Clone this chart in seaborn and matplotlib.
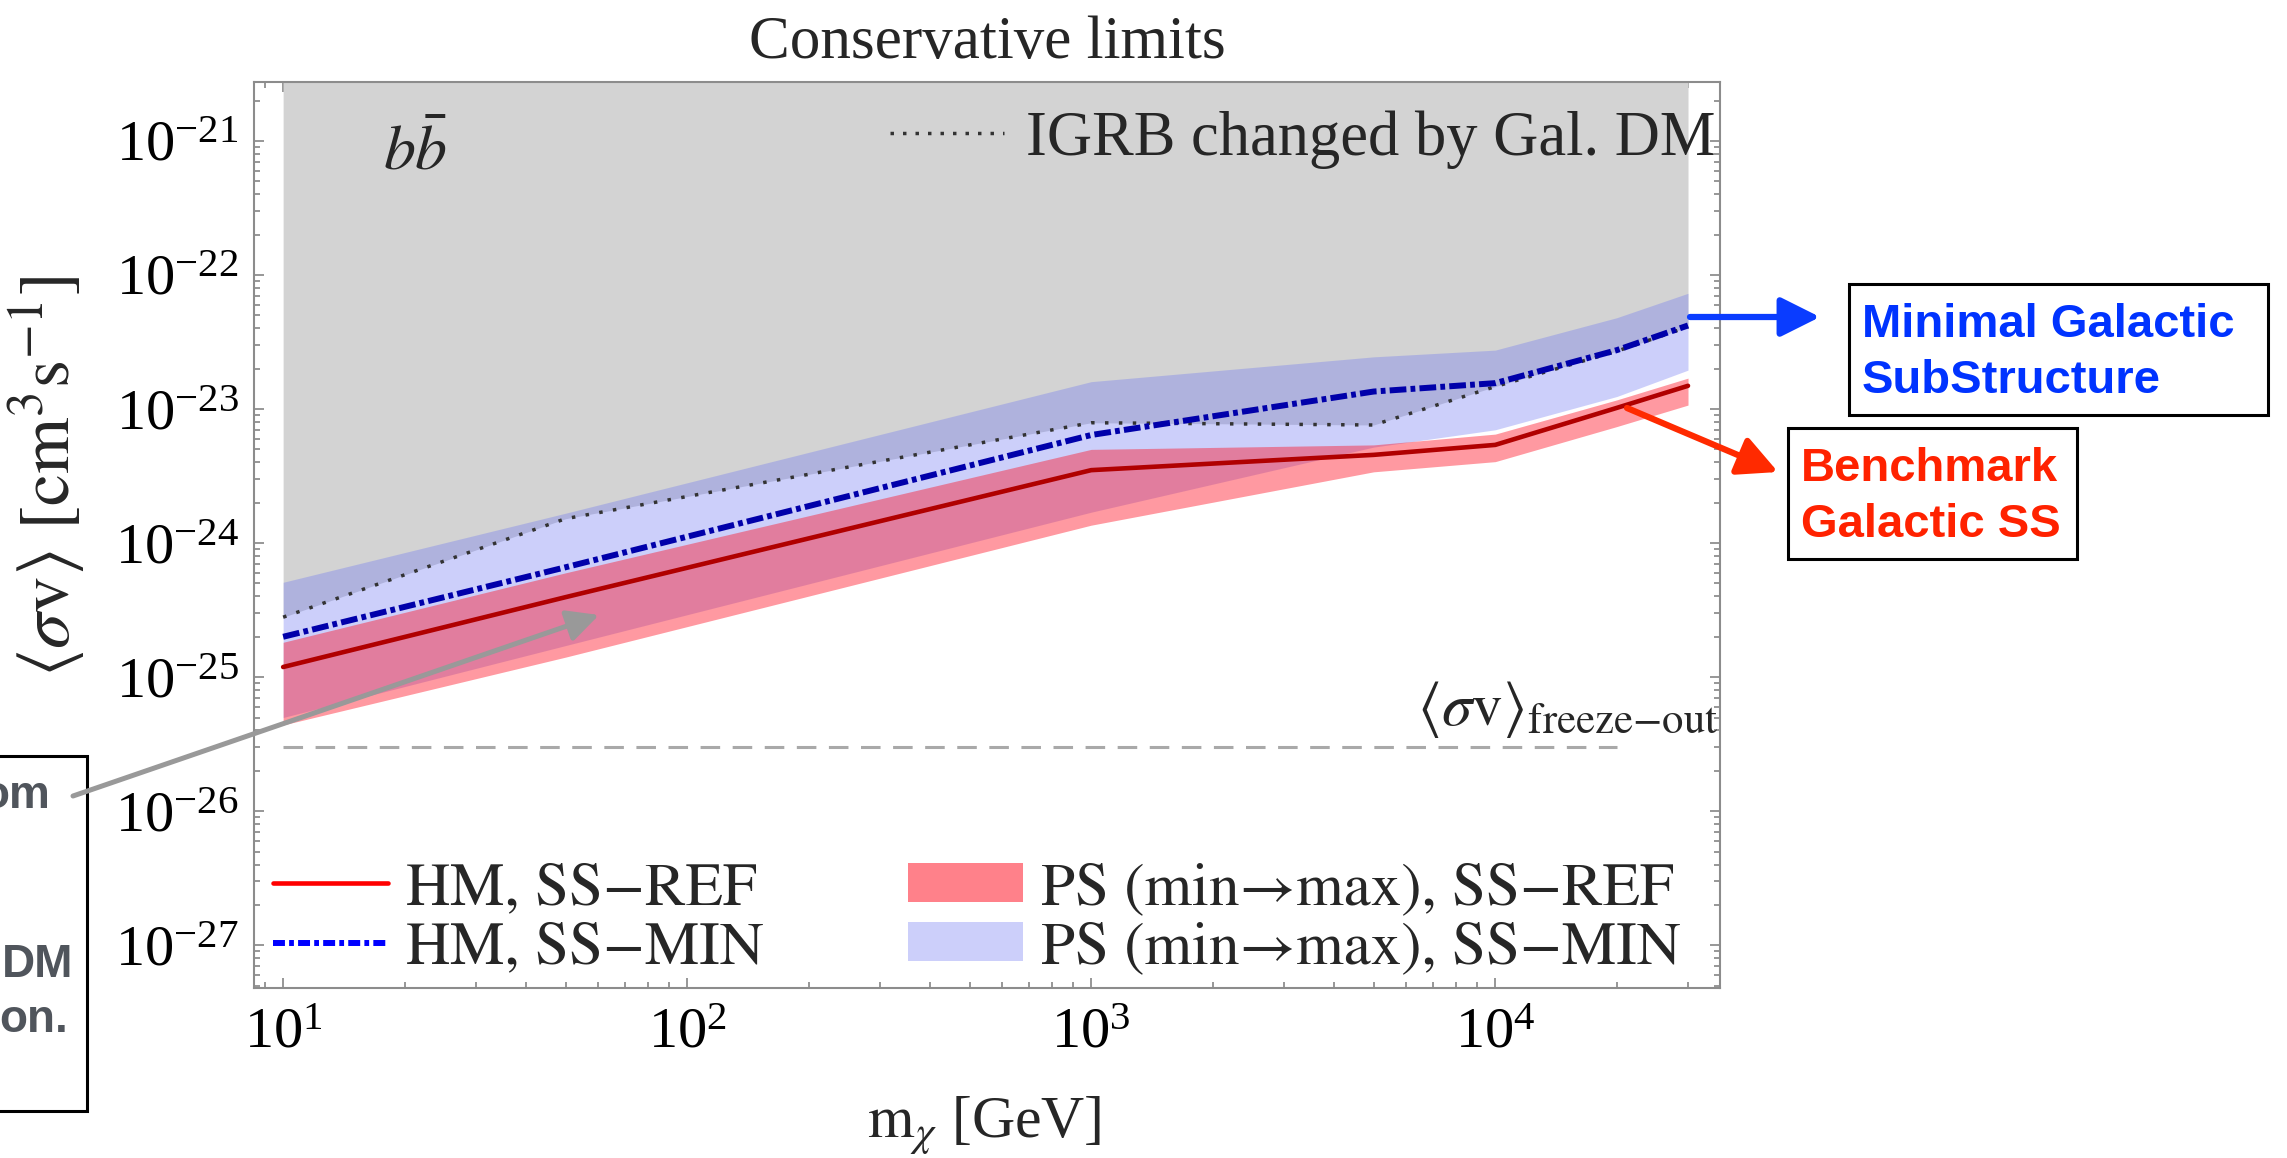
import numpy as np
import pandas as pd
import matplotlib
matplotlib.use("Agg")
import matplotlib.pyplot as plt
import seaborn as sns
from matplotlib.lines import Line2D
from matplotlib.patches import Patch, Rectangle, FancyArrowPatch
from matplotlib.ticker import LogLocator, LogFormatterMathtext, NullFormatter

# ---- data: b-bbar channel, conservative limits ----
mass = [10, 50, 1000, 5000, 10000, 20000, 30000]                      # GeV
hm_ss_ref = [1.19e-25, 3.95e-25, 3.5e-24, 4.55e-24, 5.4e-24, 1.02e-23, 1.49e-23]
hm_ss_min = [2.0e-25, 6.6e-25, 6.4e-24, 1.35e-23, 1.56e-23, 2.75e-23, 4.2e-23]
igrb_gal_dm = [2.8e-25, 1.52e-24, 7.9e-24, 7.6e-24, 1.47e-23, 2.7e-23, 4.1e-23]
ps_min_upper = [5.1e-25, 1.67e-24, 1.6e-23, 2.45e-23, 2.75e-23, 4.8e-23, 7.3e-23]
ps_min_lower = [5.0e-26, 1.72e-25, 1.7e-24, 5.2e-24, 7.0e-24, 1.24e-23, 1.95e-23]
ps_ref_upper = [1.82e-25, 6.0e-25, 5.0e-24, 5.4e-24, 6.5e-24, 1.17e-23, 1.7e-23]
ps_ref_lower = [4.4e-26, 1.41e-25, 1.36e-24, 3.4e-24, 4.05e-24, 7.4e-24, 1.07e-23]
freeze_out_mass = [10, 20000]
freeze_out_value = [3e-26, 3e-26]

x_limits = (8.47, 3.6e4)
y_limits = (4.8e-28, 2.75e-21)

df = pd.DataFrame({
    "mass": mass,
    "hm_ss_ref": hm_ss_ref,
    "hm_ss_min": hm_ss_min,
    "igrb_gal_dm": igrb_gal_dm,
})
df_fo = pd.DataFrame({"mass": freeze_out_mass, "sv": freeze_out_value})

# ---- style ----
sns.set_theme(style="ticks")
plt.rcParams["font.family"] = ["Liberation Serif", "STIXGeneral", "DejaVu Serif"]
plt.rcParams["mathtext.fontset"] = "stix"

W, H = 2287, 1158
fig = plt.figure(figsize=(W / 100, H / 100), dpi=100)
fig.patch.set_facecolor("white")

def fx(px):
    return px / W

def fy(py):
    return 1 - py / H

ax = fig.add_axes([fx(254), fy(988), fx(1720) - fx(254), fy(82) - fy(988)])
ax.set_facecolor("white")
ax.set_xscale("log")
ax.set_yscale("log")
ax.set_xlim(*x_limits)
ax.set_ylim(*y_limits)

# excluded region above the IGRB bound
ax.fill_between(mass, igrb_gal_dm, y_limits[1], color="#d3d3d3", lw=0, zorder=1)
# PS bands
ax.fill_between(mass, ps_min_lower, ps_min_upper, color=(0.42, 0.46, 0.95),
                alpha=0.34, lw=0, zorder=2)
ax.fill_between(mass, ps_ref_lower, ps_ref_upper, color=(1.0, 0.05, 0.12),
                alpha=0.42, lw=0, zorder=3)

# freeze-out cross section
sns.lineplot(data=df_fo, x="mass", y="sv", ax=ax, color="#a9a9a9", lw=2.2,
             estimator=None, sort=False, zorder=4)
ln = ax.lines[-1]
ln.set_dashes((6.4, 4.1))
ln.set_dash_capstyle("butt")

# IGRB changed by Gal. DM
sns.lineplot(data=df, x="mass", y="igrb_gal_dm", ax=ax, color="#333333", lw=2.5,
             estimator=None, sort=False, zorder=5)
ln = ax.lines[-1]
ln.set_dashes((1.0, 3.0))

# HM, SS-MIN
sns.lineplot(data=df, x="mass", y="hm_ss_min", ax=ax, color="#0000aa", lw=4.3,
             estimator=None, sort=False, zorder=6)
ln = ax.lines[-1]
ln.set_dashes((2.8, 0.7, 0.8, 0.7))
ln.set_dash_capstyle("butt")

# HM, SS-REF
sns.lineplot(data=df, x="mass", y="hm_ss_ref", ax=ax, color="#b00000", lw=3.3,
             estimator=None, sort=False, zorder=7)

# ---- axes frame and ticks ----
for s in ax.spines.values():
    s.set_color("#8c8c8c")
    s.set_linewidth(1.5)
    s.set_zorder(10)

ax.xaxis.set_major_locator(LogLocator(base=10, numticks=20))
ax.xaxis.set_minor_locator(LogLocator(base=10, subs=np.arange(2, 10), numticks=200))
ax.yaxis.set_major_locator(LogLocator(base=10, numticks=20))
ax.yaxis.set_minor_locator(LogLocator(base=10, subs=np.arange(2, 10), numticks=200))
ax.xaxis.set_major_formatter(LogFormatterMathtext())
ax.yaxis.set_major_formatter(LogFormatterMathtext())
ax.xaxis.set_minor_formatter(NullFormatter())
ax.yaxis.set_minor_formatter(NullFormatter())

ax.tick_params(which="both", direction="in", top=True, right=True,
               color="#7a7a7a", width=1.1, labelcolor="black")
ax.tick_params(which="major", length=7.5)
ax.tick_params(which="minor", length=4.3)
ax.tick_params(axis="x", which="major", labelsize=42, pad=14)
ax.tick_params(axis="y", which="major", labelsize=42, pad=11)

ax.set_xlabel(r"$\mathrm{m}_{\chi}$ [GeV]", fontsize=43, va="top")
ax.xaxis.set_label_coords(0.498, -0.118)
ax.set_ylabel(r"$\langle\sigma\mathrm{v}\rangle\ [\mathrm{cm}^{3}\mathrm{s}^{-1}]$",
              fontsize=52, va="center")
ax.yaxis.set_label_coords(-0.141, 0.565)

ax.text(0.5, 1.0265, "Conservative limits", transform=ax.transAxes,
        ha="center", va="baseline", fontsize=44)

ax.text(0.088, 0.903, r"$b\bar{b}$", transform=ax.transAxes,
        ha="left", va="baseline", fontsize=46, zorder=12)

ax.text(0.999, 0.290, r"$\langle\sigma\mathrm{v}\rangle_{\mathrm{freeze{-}out}}$",
        transform=ax.transAxes, ha="right", va="baseline", fontsize=44, zorder=12)

# ---- legends ----
dot_handle = Line2D([], [], color="#333333", lw=2.5, dashes=(1.0, 2.6))
leg_top = ax.legend([dot_handle], ["IGRB changed by Gal. DM"], loc="center right",
                    bbox_to_anchor=(0.9966, 0.936), frameon=False, fontsize=45,
                    handlelength=1.82, handletextpad=0.35, borderpad=0,
                    borderaxespad=0)
leg_top.set_zorder(12)
ax.add_artist(leg_top)

h_ref = Line2D([], [], color="#ff0000", lw=3.3)
h_min = Line2D([], [], color="#0000ff", lw=4.3, dashes=(2.0, 0.7, 0.8, 0.7))
h_min.set_dash_capstyle("butt")
p_ref = Patch(facecolor=(1.0, 0.05, 0.12), alpha=0.52, lw=0)
p_min = Patch(facecolor=(0.42, 0.46, 0.95), alpha=0.34, lw=0)
leg = ax.legend([h_ref, h_min, p_ref, p_min],
                ["HM, SS\u2212REF", "HM, SS\u2212MIN",
                 "PS (min\u2192max), SS\u2212REF", "PS (min\u2192max), SS\u2212MIN"],
                ncol=2, loc="lower left", bbox_to_anchor=(0.013, 0.013),
                frameon=False, prop={"family": ["STIXGeneral"], "size": 44},
                handlelength=1.88, handleheight=0.6, handletextpad=0.3,
                columnspacing=2.35, labelspacing=0.08, borderpad=0,
                borderaxespad=0)
leg.set_zorder(12)

# ---- annotation boxes outside the frame ----
def box(x0, y0, x1, y1):
    r = Rectangle((fx(x0), fy(y1)), fx(x1) - fx(x0), fy(y0) - fy(y1),
                  transform=fig.transFigure, fill=False, ec="black", lw=2.2,
                  zorder=20)
    fig.add_artist(r)

def arrow(p0, p1, color, lw, scale):
    a = FancyArrowPatch((fx(p0[0]), fy(p0[1])), (fx(p1[0]), fy(p1[1])),
                        transform=fig.transFigure, arrowstyle="-|>",
                        mutation_scale=scale, lw=lw, color=color,
                        shrinkA=0, shrinkB=0, zorder=21)
    fig.add_artist(a)

sans = ["Liberation Sans", "DejaVu Sans"]

box(1849, 284, 2268, 415)
fig.text(fx(1862), fy(337), "Minimal Galactic", color="#0033ff", fontsize=34,
         fontweight="bold", family=sans, ha="left", va="baseline")
fig.text(fx(1862), fy(393), "SubStructure", color="#0033ff", fontsize=34,
         fontweight="bold", family=sans, ha="left", va="baseline")
arrow((1690, 317), (1820, 317), "#0a3cff", 4.5, 60)

box(1788, 428, 2077, 559)
fig.text(fx(1801), fy(481), "Benchmark", color="#ff2200", fontsize=34,
         fontweight="bold", family=sans, ha="left", va="baseline")
fig.text(fx(1801), fy(537), "Galactic SS", color="#ff2200", fontsize=34,
         fontweight="bold", family=sans, ha="left", va="baseline")
arrow((1627, 408), (1778, 472), "#ff2a00", 4.5, 60)

box(-20, 756, 87, 1111)
fig.text(fx(50), fy(808), "om", color="#50555c", fontsize=33,
         fontweight="bold", family=sans, ha="right", va="baseline")
fig.text(fx(73), fy(977), "DM", color="#50555c", fontsize=33,
         fontweight="bold", family=sans, ha="right", va="baseline")
fig.text(fx(68), fy(1032), "on.", color="#50555c", fontsize=33,
         fontweight="bold", family=sans, ha="right", va="baseline")
arrow((73, 796), (599, 615), "#999999", 3.6, 48)

fig.savefig("out.png", dpi=100)
